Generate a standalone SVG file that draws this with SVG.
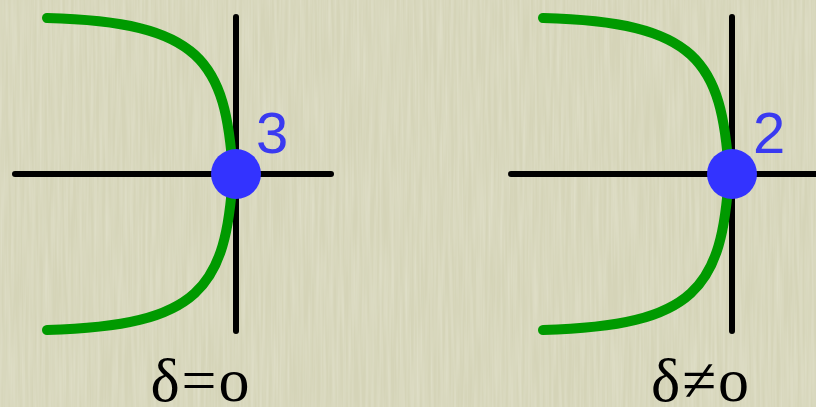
<svg xmlns="http://www.w3.org/2000/svg" width="816" height="407" viewBox="0 0 816 407">
<defs>
<filter id="tex" x="0" y="0" width="100%" height="100%">
<feTurbulence type="fractalNoise" baseFrequency="0.35 0.012" numOctaves="2" seed="3" result="n"/>
<feColorMatrix in="n" type="matrix" values="0 0 0 0 1  0 0 0 0 1  0 0 0 0 0.95  0 0 0 0.4 -0.12" result="w"/>
<feComposite in="w" in2="SourceGraphic" operator="in"/>
</filter>
<style>
.axis{stroke:#000;stroke-width:6;stroke-linecap:round;fill:none}
.curve{stroke:#009a00;stroke-width:10;stroke-linecap:round;fill:none}
.pt{fill:#3333ff}
.num{font-family:"Liberation Sans",Arial,sans-serif;font-size:58px;fill:#3a3af0}
.lbl{font-family:"Liberation Serif","Times New Roman",serif;font-size:62px;fill:#000;text-anchor:middle;letter-spacing:2px}
</style>
</defs>
<rect width="816" height="407" fill="#d5d4b8"/>
<rect width="816" height="407" fill="#d5d4b8" filter="url(#tex)"/>
<g id="left">
<line class="axis" x1="15" y1="174" x2="331" y2="174"/>
<line class="axis" x1="236" y1="17" x2="236" y2="331"/>
<path class="curve" d="M47,18 C200,22 226,60 233,174 C226,288 200,326 47,330"/>
<circle class="pt" cx="236" cy="174" r="25"/>
<text class="num" x="256" y="153">3</text>
<text class="lbl" x="201" y="401">δ=o</text>
</g>
<g id="right">
<line class="axis" x1="511" y1="174" x2="830" y2="174"/>
<line class="axis" x1="732" y1="17" x2="732" y2="331"/>
<path class="curve" d="M543,18 C696,22 722,60 729,174 C722,288 696,326 543,330"/>
<circle class="pt" cx="732" cy="174" r="25"/>
<text class="num" x="753" y="153">2</text>
<text class="lbl" x="701" y="401">δ≠o</text>
</g>
</svg>
